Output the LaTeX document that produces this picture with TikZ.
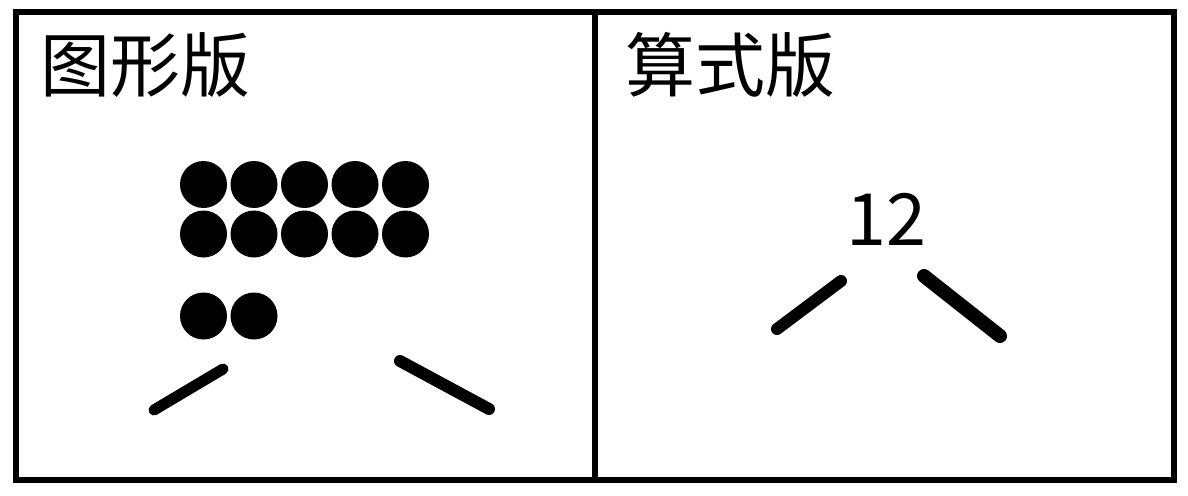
\documentclass[tikz,border=0pt]{standalone}
\usepackage{fontspec}
\setmainfont{Noto Sans CJK SC}
\begin{document}
\begin{tikzpicture}[x=1pt,y=-1pt,
  frame/.style={draw=black,line width=6.5pt},
  dot/.style={circle,fill=black,inner sep=0pt,minimum size=47pt},
  stroke/.style={line width=11pt,line cap=round,black},
  title/.style={inner sep=0pt,anchor=base west,font=\fontsize{70}{84}\selectfont}]
\useasboundingbox (0,0) rectangle (1188,495);
\draw[frame] (16,12) rectangle (1174,480);
\draw[frame] (595,12) -- (595,480);
\node[title] (t1) at (40,92) {图形版};
\node[title] (t2) at (625,92) {算式版};
% dots
\foreach \i/\x in {1/203.5,2/254,3/304.5,4/355,5/405.5}{
  \node[dot] (a\i) at (\x,184.5) {};
  \node[dot] (b\i) at (\x,234) {};
}
\node[dot] (c1) at (203.5,316) {};
\node[dot] (c2) at (254,316) {};
% left strokes
\coordinate (l1) at (154,410);
\coordinate (l2) at (223,369);
\coordinate (r1) at (400,361);
\coordinate (r2) at (489,409);
\draw[stroke] (l1) -- (l2);
\draw[stroke,line width=12pt] (r1) -- (r2);
% right panel
\node[inner sep=0pt,anchor=base,font=\fontsize{72}{86}\selectfont] (n12) at (886,245) {12};
\coordinate (p1) at (777,329);
\coordinate (p2) at (841,281);
\coordinate (q1) at (924,276);
\coordinate (q2) at (1000,336);
\draw[stroke,line width=12pt] (p1) -- (p2);
\draw[stroke,line width=14pt] (q1) -- (q2);
\end{tikzpicture}
\end{document}
